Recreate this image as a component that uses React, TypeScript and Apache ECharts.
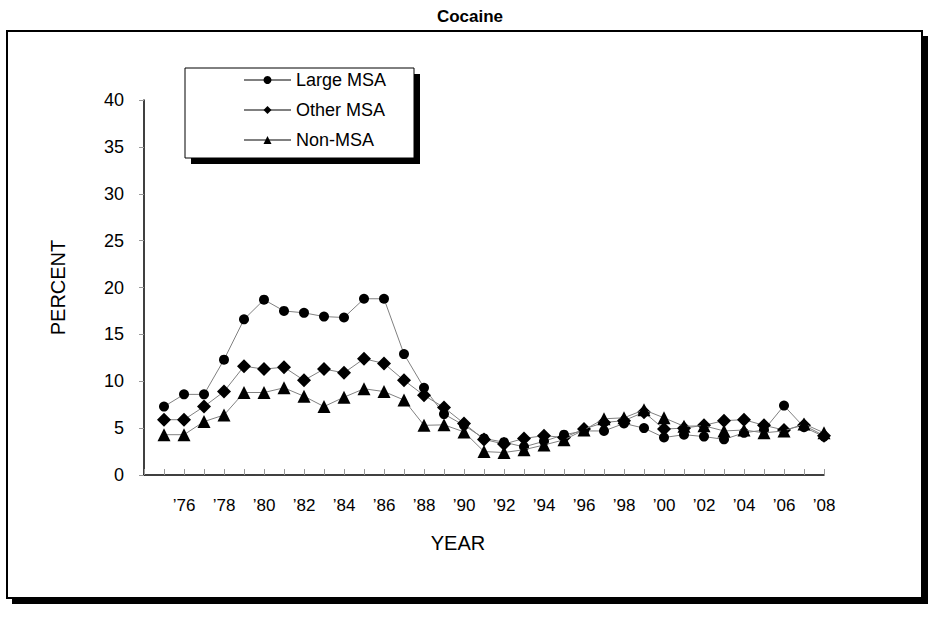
import React, { useEffect, useRef } from "react";
import * as echarts from "echarts";

const years = [
  1975, 1976, 1977, 1978, 1979, 1980, 1981, 1982, 1983, 1984, 1985, 1986,
  1987, 1988, 1989, 1990, 1991, 1992, 1993, 1994, 1995, 1996, 1997, 1998,
  1999, 2000, 2001, 2002, 2003, 2004, 2005, 2006, 2007, 2008,
];
const largeMSA = [
  7.3, 8.6, 8.6, 12.3, 16.6, 18.7, 17.5, 17.3, 16.9, 16.8, 18.8, 18.8,
  12.9, 9.3, 6.5, 5.3, 3.9, 3.5, 3.0, 3.6, 4.3, 4.7, 4.7, 5.5,
  5.0, 4.0, 4.3, 4.1, 3.8, 4.5, 4.8, 7.4, 5.1, 4.1,
];
const otherMSA = [
  5.9, 5.9, 7.3, 8.9, 11.6, 11.3, 11.5, 10.1, 11.3, 10.9, 12.4, 11.9,
  10.1, 8.5, 7.2, 5.5, 3.8, 3.3, 3.9, 4.2, 4.0, 4.9, 5.6, 5.8,
  6.7, 4.9, 5.0, 5.3, 5.8, 5.9, 5.3, 4.8, 5.3, 4.2,
];
const nonMSA = [
  4.3, 4.3, 5.7, 6.4, 8.8, 8.8, 9.3, 8.4, 7.3, 8.3, 9.2, 8.9,
  8.0, 5.3, 5.35, 4.6, 2.5, 2.4, 2.7, 3.2, 3.75, 4.8, 6.0, 6.1,
  6.95, 6.1, 5.2, 5.25, 4.7, 4.8, 4.5, 4.7, 5.45, 4.5,
];
const seriesNames = ["Large MSA", "Other MSA", "Non-MSA"];
const yTicks = { min: 0, max: 40, interval: 5 };

const FONT = "'Liberation Sans', Arial, sans-serif";

export default function App() {
  const ref = useRef<HTMLDivElement>(null);
  useEffect(() => {
    if (!ref.current) return;
    const chart = echarts.init(ref.current, null, { renderer: "svg" });
    const pair = (arr: number[]) => years.map((y, i) => [y, arr[i]]);
    const lineStyle = { color: "#808080", width: 1 };
    const itemStyle = { color: "#000000" };
    chart.setOption({
      animation: false,
      backgroundColor: "#ffffff",
      title: {
        text: "Cocaine",
        left: 465,
        textAlign: "center",
        top: 3,
        textStyle: { fontFamily: FONT, fontWeight: "bold", fontSize: 17, color: "#000" },
      },
      graphic: [
        { type: "rect", z: -10, silent: true, shape: { x: 12, y: 36, width: 916, height: 568 }, style: { fill: "#000" } },
        { type: "rect", z: -9, silent: true, shape: { x: 7, y: 31, width: 915, height: 567 }, style: { fill: "#fff", stroke: "#000", lineWidth: 2 } },
        { type: "rect", z: -8, silent: true, shape: { x: 191, y: 74, width: 229, height: 90 }, style: { fill: "#000" } },
        { type: "rect", z: -7, silent: true, shape: { x: 185, y: 68, width: 229, height: 90 }, style: { fill: "#fff", stroke: "#000", lineWidth: 1 } },
      ],
      legend: {
        orient: "vertical",
        left: 243,
        top: 71,
        padding: 0,
        itemWidth: 47,
        itemHeight: 10,
        itemGap: 12,
        textStyle: { fontFamily: FONT, fontSize: 18, color: "#000" },
        data: seriesNames,
      },
      grid: { left: 144, top: 100, width: 680, height: 375, containLabel: false },
      xAxis: {
        type: "value",
        min: 1974,
        max: 2008,
        interval: 1,
        name: "YEAR",
        nameLocation: "middle",
        nameGap: 58,
        nameTextStyle: { fontFamily: FONT, fontSize: 20, color: "#000", padding: [0, 52, 0, 0] },
        axisLine: { show: true, onZero: false, lineStyle: { color: "#000", width: 1.5 } },
        axisTick: { show: true, inside: true, length: 6, lineStyle: { color: "#999" } },
        splitLine: { show: false },
        axisLabel: {
          margin: 22,
          fontFamily: FONT,
          fontSize: 17,
          color: "#000",
          showMinLabel: true,
          showMaxLabel: true,
          formatter: (v: number) =>
            v >= 1976 && v % 2 === 0 ? "\u2019" + String(v).slice(2) : "",
        },
      },
      yAxis: {
        type: "value",
        min: yTicks.min,
        max: yTicks.max,
        interval: yTicks.interval,
        name: "PERCENT",
        nameLocation: "middle",
        nameGap: 76,
        nameTextStyle: { fontFamily: FONT, fontSize: 20, color: "#000" },
        axisLine: { show: true, lineStyle: { color: "#000", width: 1.5 } },
        axisTick: { show: true, inside: false, length: 5, lineStyle: { color: "#999" } },
        splitLine: { show: false },
        axisLabel: { margin: 20, fontFamily: FONT, fontSize: 18, color: "#000" },
      },
      series: [
        {
          name: seriesNames[0],
          type: "line",
          data: pair(largeMSA),
          symbol: "circle",
          symbolSize: 10,
          lineStyle,
          itemStyle,
          z: 2,
        },
        {
          name: seriesNames[1],
          type: "line",
          data: pair(otherMSA),
          symbol: "diamond",
          symbolSize: 14,
          lineStyle,
          itemStyle,
          z: 3,
        },
        {
          name: seriesNames[2],
          type: "line",
          data: pair(nonMSA),
          symbol: "triangle",
          symbolSize: 13,
          lineStyle,
          itemStyle,
          z: 4,
        },
      ],
    });
    return () => chart.dispose();
  }, []);
  return (
    <div
      ref={ref}
      style={{ position: "fixed", left: 0, top: 0, width: 931, height: 619 }}
    />
  );
}
